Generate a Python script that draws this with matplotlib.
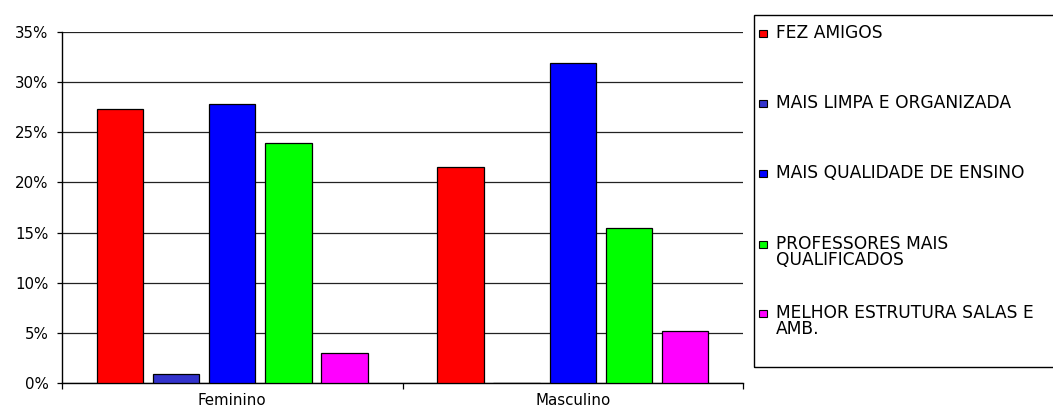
import matplotlib
matplotlib.use("Agg")
import matplotlib.pyplot as plt
from matplotlib.patches import Rectangle
import numpy as np

plt.rcParams['font.family'] = ['DejaVu Sans']

categories = ["Feminino", "Masculino"]
series_labels = ["FEZ AMIGOS", "MAIS LIMPA E ORGANIZADA", "MAIS QUALIDADE DE ENSINO",
                 "PROFESSORES MAIS\nQUALIFICADOS", "MELHOR ESTRUTURA SALAS E\nAMB."]
series_colors = ["#FF0000", "#3333CC", "#0000FF", "#00FF00", "#FF00FF"]
fez_amigos = [0.273, 0.215]
mais_limpa = [0.009, 0.0]
mais_qualidade = [0.278, 0.319]
professores = [0.239, 0.155]
melhor_estrutura = [0.030, 0.052]
series_values = [fez_amigos, mais_limpa, mais_qualidade, professores, melhor_estrutura]
y_ticks = [0, 0.05, 0.10, 0.15, 0.20, 0.25, 0.30, 0.35]

W, H = 1053, 412
fig = plt.figure(figsize=(W / 100, H / 100), dpi=100)
ax = fig.add_axes([62 / W, (H - 383) / H, 681 / W, 351 / H])

x = np.arange(len(categories))
slot = 0.165
bw = 0.136
n = len(series_values)
for i, (vals, col) in enumerate(zip(series_values, series_colors)):
    ax.bar(x + (i - (n - 1) / 2) * slot, vals, width=bw, color=col,
           edgecolor="black", linewidth=0.9, zorder=3)

ax.set_xlim(-0.5, len(categories) - 0.5)
ax.set_ylim(0, 0.35)
ax.set_yticks(y_ticks)
ax.set_yticklabels([f"{int(round(t * 100))}%" for t in y_ticks])
ax.yaxis.grid(True, color="#222222", linewidth=0.9, zorder=0)
ax.set_axisbelow(True)

ax.set_xticks(np.arange(-0.5, len(categories), 1.0))
ax.set_xticklabels([])
ax.set_xticks(x, minor=True)
ax.set_xticklabels(categories, minor=True)
ax.tick_params(axis="x", which="minor", length=0, pad=7, labelsize=10.8)
ax.tick_params(axis="x", which="major", length=4, direction="out", width=0.9)
ax.tick_params(axis="y", length=3.6, direction="out", pad=6, labelsize=10.8, width=0.9)

for s in ["top", "right"]:
    ax.spines[s].set_visible(False)
for s in ["left", "bottom"]:
    ax.spines[s].set_linewidth(1.0)
    ax.spines[s].set_color("black")

# Legend (manual, to match layout)
def fx(px):
    return px / W

def fy(py):
    return 1 - py / H

fig.patches.append(Rectangle((fx(754), fy(367)), fx(1070) - fx(754), fy(15) - fy(367),
                             transform=fig.transFigure, fill=False,
                             edgecolor="black", linewidth=1.0))
entry_y = [33.5, 103.5, 173.5, 244, 313.5]
for lab, col, yc in zip(series_labels, series_colors, entry_y):
    fig.patches.append(Rectangle((fx(759), fy(yc + 3.5)), fx(8), 7 / H,
                                 transform=fig.transFigure, facecolor=col,
                                 edgecolor="black", linewidth=0.8))
    for k, line in enumerate(lab.split("\n")):
        fig.text(fx(776), fy(yc + k * 16), line, fontsize=12.3, va="center", ha="left")

fig.savefig("out.png", dpi=100)
